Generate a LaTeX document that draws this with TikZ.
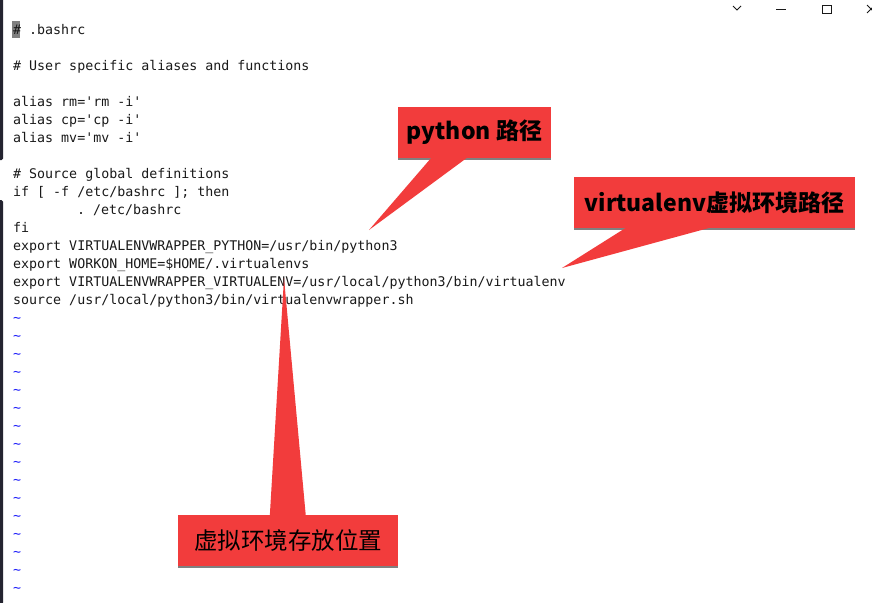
\documentclass[tikz,border=0pt]{standalone}
\usepackage{fontspec}
\setmonofont{DejaVu Sans Mono}
\newfontfamily\cjkfont{Noto Sans CJK SC}
\usepackage{tikz}
\usetikzlibrary{positioning,calc,shadows}
\definecolor{calloutred}{RGB}{242,60,60}
\definecolor{tildeblue}{RGB}{30,30,250}
\definecolor{codeink}{RGB}{25,25,25}
\definecolor{frameside}{RGB}{36,36,48}
\definecolor{cursorgray}{RGB}{128,128,128}
\tikzstyle{code} = [anchor=base west, inner sep=0pt, text=codeink, font=\ttfamily\fontsize{13.3}{16}\selectfont]
\tikzstyle{tilde} = [code, text=tildeblue]
\tikzstyle{callout} = [fill=calloutred, inner sep=0pt, minimum height=51pt, text=black, drop shadow={shadow xshift=0pt, shadow yshift=-1.5pt, fill=gray, opacity=1}]
\tikzstyle{calltext} = [font=\cjkfont\bfseries\fontsize{23}{26}\selectfont]
\tikzstyle{tail} = [fill=calloutred]

\begin{document}
\begin{tikzpicture}[x=1pt, y=-1pt]
            \useasboundingbox (0,0) rectangle (872,602);
            \fill[white] (0,0) rectangle (872,602);
            % window edge and buttons
            \fill[frameside, rounded corners=1.5pt] (-2,-2) rectangle (3,160);
            \fill[frameside, rounded corners=1.5pt] (-2,200) rectangle (3,604);
            \draw[codeink, line width=0.8pt] (733,6) -- (737,10) -- (741,6);
            \draw[codeink, line width=0.8pt] (776,9) -- (786,9);
            \draw[codeink, line width=0.8pt] (822,5) rectangle (831,13);
            \draw[codeink, line width=0.8pt] (867,5) -- (875,13) (867,13) -- (875,5);
            \fill[cursorgray] (12,21.5) rectangle (20,38.5);

            \node[code] (l1) at (13,34.5) {\# .bashrc};
            \node[code] (l2) at (13,70.5) {\# User specific aliases and functions};
            \node[code] (l3) at (13,106.5) {alias rm='rm -i'};
            \node[code] (l4) at (13,124.5) {alias cp='cp -i'};
            \node[code] (l5) at (13,142.5) {alias mv='mv -i'};
            \node[code] (l6) at (13,178.5) {\# Source global definitions};
            \node[code] (l7) at (13,196.5) {if [ -f /etc/bashrc ]; then};
            \node[code] (l8) at (77,214.5) {. /etc/bashrc};
            \node[code] (l9) at (13,232.5) {fi};
            \node[code] (l10) at (13,250.5) {export VIRTUALENVWRAPPER\_PYTHON=/usr/bin/python3};
            \node[code] (l11) at (13,268.5) {export WORKON\_HOME=\$HOME/.virtualenvs};
            \node[code] (l12) at (13,286.5) {export VIRTUALENVWRAPPER\_VIRTUALENV=/usr/local/python3/bin/virtualenv};
            \node[code] (l13) at (13,304.5) {source /usr/local/python3/bin/virtualenvwrapper.sh};
            \foreach \i in {0,...,15} \node[tilde] (t\i) at (13,322.5+18*\i) {\textasciitilde};

            \node[callout, minimum width=153pt, calltext] (py) at (474.5,132.5) {python 路径};
            \node[callout, minimum width=281pt, calltext] (venv) at (714.5,202.5) {virtualenv虚拟环境路径};
            \node[callout, minimum width=220pt, font=\cjkfont\fontsize{23.5}{26}\selectfont] (loc) at (288,540.5) {虚拟环境存放位置};

            \coordinate (pytip) at (369,230);
            \coordinate (venvtip) at (562,268);
            \coordinate (loctip) at (284,278);

            \fill[tail] ([xshift=34pt,yshift=1pt]py.south west) -- (pytip) -- ([xshift=70pt,yshift=1pt]py.south west) -- cycle;
            \fill[tail] ([xshift=53pt,yshift=1pt]venv.south west) -- (venvtip) -- ([xshift=138pt,yshift=1pt]venv.south west) -- cycle;
            \fill[tail] ([xshift=92pt,yshift=-1pt]loc.north west) -- (loctip) -- ([xshift=128pt,yshift=-1pt]loc.north west) -- cycle;
            % \draw[red, dashed] (py) -- (venv);
\end{tikzpicture}
\end{document}
